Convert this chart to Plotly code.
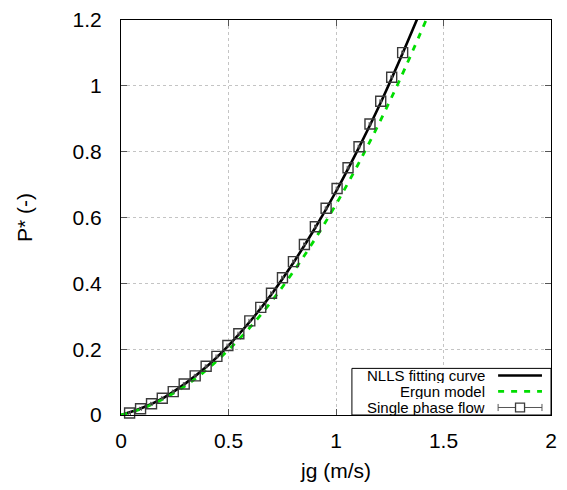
import plotly.graph_objects as go

# ---- data ----
jg_data = [0.040, 0.091, 0.142, 0.192, 0.243, 0.294, 0.345, 0.396, 0.446, 0.497,
           0.548, 0.599, 0.650, 0.700, 0.751, 0.802, 0.853, 0.904, 0.954, 1.005,
           1.056, 1.107, 1.158, 1.208, 1.259, 1.310]
p_data = [0.006, 0.019, 0.034, 0.051, 0.071, 0.094, 0.119, 0.148, 0.178, 0.211,
          0.247, 0.286, 0.327, 0.370, 0.417, 0.466, 0.518, 0.572, 0.628, 0.688,
          0.751, 0.815, 0.884, 0.953, 1.026, 1.101]

jg_fit = [0.0, 0.1, 0.2, 0.3, 0.4, 0.5, 0.6, 0.7, 0.8, 0.9, 1.0, 1.1, 1.2, 1.3, 1.38]
p_fit = [0.0, 0.022, 0.053, 0.096, 0.148, 0.211, 0.284, 0.367, 0.461, 0.565,
         0.679, 0.804, 0.938, 1.084, 1.207]

jg_ergun = [0.0, 0.1, 0.2, 0.3, 0.4, 0.5, 0.6, 0.7, 0.8, 0.9, 1.0, 1.1, 1.2, 1.3, 1.42]
p_ergun = [0.0, 0.020, 0.050, 0.089, 0.138, 0.198, 0.266, 0.345, 0.434, 0.532,
           0.640, 0.758, 0.886, 1.023, 1.201]

legend_labels = ["NLLS fitting curve", "Ergun model", "Single phase flow"]
x_ticks = [0, 0.5, 1, 1.5, 2]
y_ticks = [0, 0.2, 0.4, 0.6, 0.8, 1, 1.2]
x_title = "jg (m/s)"
y_title = "P* (-)"

FONT = "Liberation Sans, Arial, Helvetica, sans-serif"
GREEN = "#00dd00"

fig = go.Figure()
fig.add_trace(go.Scatter(x=jg_fit, y=p_fit, mode="lines", line_shape="spline",
                         line=dict(color="black", width=2.6), showlegend=False))
fig.add_trace(go.Scatter(x=jg_ergun, y=p_ergun, mode="lines", line_shape="spline",
                         line=dict(color=GREEN, width=2.8, dash="6px,7px"),
                         showlegend=False))
fig.add_trace(go.Scatter(x=jg_data, y=p_data, mode="markers", cliponaxis=False,
                         marker=dict(symbol="square-open", size=10, color="#3a3a3a",
                                     line=dict(width=1.4, color="#3a3a3a")),
                         error_x=dict(type="constant", value=0.004, color="#555555",
                                      thickness=1, width=2),
                         showlegend=False))

axis_common = dict(
    showline=True, linecolor="black", linewidth=1, mirror="ticks",
    ticks="inside", ticklen=6, tickcolor="#555555", tickwidth=1,
    showgrid=True, gridcolor="#c4c4c4", griddash="dot", gridwidth=1,
    zeroline=False, automargin=False, ticklabeloverflow="allow",
    tickfont=dict(family=FONT, size=21, color="black"),
)

fig.update_xaxes(range=[0, 2], tickvals=x_ticks, ticklabelstandoff=7,
                 title=dict(text=x_title, font=dict(family=FONT, size=21, color="black"),
                            standoff=12),
                 **axis_common)
fig.update_yaxes(range=[0, 1.2], tickvals=y_ticks, ticklabelstandoff=14,
                 title=dict(text=y_title, font=dict(family=FONT, size=21, color="black"),
                            standoff=34),
                 **axis_common)

# ---- gnuplot-style key (bottom right, boxed) ----
shapes = []
box_x0, box_y1 = 0.537, 0.118
shapes.append(dict(type="rect", xref="paper", yref="paper", x0=box_x0, x1=1.0,
                   y0=0.0, y1=box_y1, fillcolor="white",
                   line=dict(color="black", width=1), layer="above"))
rows_y = [0.1000, 0.0597, 0.0190]
sx0, sx1 = 0.877, 0.979
shapes.append(dict(type="line", xref="paper", yref="paper", x0=sx0, x1=sx1,
                   y0=rows_y[0], y1=rows_y[0], line=dict(color="black", width=2.6),
                   layer="above"))
shapes.append(dict(type="line", xref="paper", yref="paper", x0=sx0, x1=sx1,
                   y0=rows_y[1], y1=rows_y[1],
                   line=dict(color=GREEN, width=2.8, dash="6px,7px"), layer="above"))
# error bar sample
shapes.append(dict(type="line", xref="paper", yref="paper", x0=sx0, x1=sx1,
                   y0=rows_y[2], y1=rows_y[2], line=dict(color="#555555", width=1),
                   layer="above"))
for xc in (sx0, sx1):
    shapes.append(dict(type="line", xref="paper", yref="paper", x0=xc, x1=xc,
                       y0=rows_y[2] - 0.009, y1=rows_y[2] + 0.009,
                       line=dict(color="#555555", width=1), layer="above"))
cx = (sx0 + sx1) / 2
shapes.append(dict(type="rect", xref="paper", yref="paper",
                   x0=cx - 0.0105, x1=cx + 0.0105,
                   y0=rows_y[2] - 0.0113, y1=rows_y[2] + 0.0113,
                   fillcolor="white", line=dict(color="#3a3a3a", width=1.3),
                   layer="above"))

annotations = []
for label, yy in zip(legend_labels, rows_y):
    annotations.append(dict(text=label, xref="paper", yref="paper", x=0.851, y=yy,
                            xanchor="right", yanchor="middle", showarrow=False,
                            height=15, valign="middle",
                            font=dict(family=FONT, size=15, color="black")))

# The page body offsets the figure by 8 px; margins compensate so the plot
# area lands at ~121..551 x 20..415 in the screenshot.
fig.update_layout(
    width=567, height=490,
    margin=dict(l=113, r=24, t=12, b=83, autoexpand=False),
    plot_bgcolor="white", paper_bgcolor="white",
    showlegend=False,
    shapes=shapes, annotations=annotations,
    font=dict(family=FONT, color="black"),
)

fig.write_html("out.html")
